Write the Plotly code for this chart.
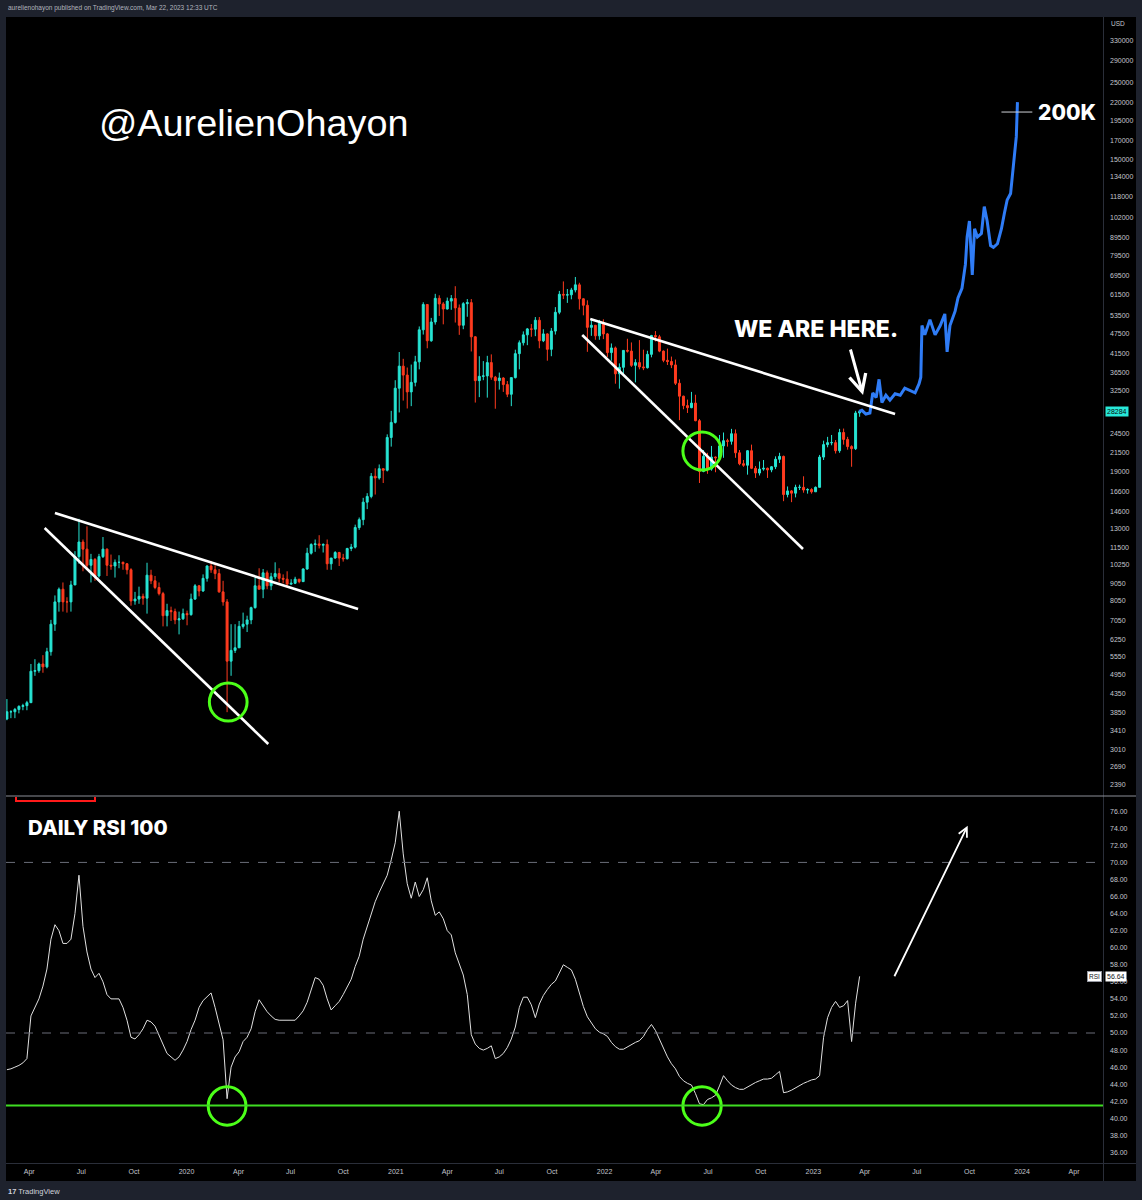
import math
import pandas as pd
import plotly.graph_objects as go

W, H = 1142, 1200


def px(x):
    return x / W


def py(y):
    return 1 - y / H


# ---------------- weekly BTC/USD candles (weeks from 2019-02-18, drawn mid-week) ----------------
week_start = "2019-02-21"
first_open = 3680

close_2019 = [3860, 3860, 3920, 4000, 4020, 4100, 5050, 5070, 5300, 5200, 5750, 6900, 8000, 8700, 8000, 8000,
              8950, 10800, 11900, 11350, 10200, 10600, 9500, 10800, 11350, 10200, 10150, 10400, 10400, 10300,
              9900, 8050, 8150, 8300, 8200, 9550, 9200, 8800, 8450, 7300, 7550, 7500, 7100, 7150, 7400, 7350]
high_2019 = [4200, 3900, 3960, 4030, 4070, 4150, 5300, 5470, 5350, 5620, 5900, 7100, 8350, 8800, 9100, 8250,
             9200, 11200, 13880, 12100, 13200, 11000, 10700, 11000, 12300, 11400, 10950, 10600, 10900, 10450,
             10350, 10000, 8550, 8850, 8450, 10370, 9900, 9500, 9100, 8550, 7900, 7750, 7650, 7500, 7650, 7550]
low_2019 = [3650, 3700, 3700, 3820, 3900, 3900, 4100, 4900, 5000, 5000, 5150, 5600, 6600, 7500, 7500, 7450,
            7500, 8950, 10300, 9800, 10000, 9100, 9200, 9400, 10700, 9500, 9900, 9400, 10000, 9900,
            9600, 7800, 7850, 7900, 7850, 7400, 9000, 8700, 8350, 6800, 6800, 7050, 6900, 6450, 7100, 6850]

close_2020 = [8150, 8900, 8600, 9350, 10150, 9900, 9650, 8550, 8000, 5400, 5800, 5900, 6800, 6900, 7100, 7700,
              8900, 8700, 9700, 8900, 9450, 9650, 9350, 9300, 9000, 9050, 9300, 9150, 9950, 11050, 11700,
              11750, 11650, 11700, 10300, 10700, 11100, 10700, 10650, 11400, 11500, 13100, 13800, 15500,
              16100, 18400, 18200, 19350, 19150, 23800, 26300, 33000]
high_2020 = [8450, 9000, 8950, 9600, 10200, 10500, 10200, 9950, 9200, 8150, 6900, 6900, 7050, 7450, 7300, 7750,
             9450, 10000, 9950, 9850, 9700, 10400, 10000, 9600, 9800, 9300, 9450, 9300, 10000, 11450, 11800,
             12100, 12450, 11800, 12100, 10700, 11200, 11150, 11000, 11450, 11750, 13350, 14000, 15950,
             16450, 18800, 19400, 19900, 19400, 24300, 28400, 34800]
low_2020 = [7300, 8100, 8300, 8550, 9150, 9700, 9300, 8500, 7800, 3850, 4900, 5700, 5900, 6700, 6550, 6900,
            7650, 8700, 8200, 8700, 8650, 9300, 9100, 9050, 8850, 8950, 9000, 9050, 9150, 9900, 10950,
            11150, 11400, 11100, 9900, 9900, 10650, 10150, 10450, 10600, 11200, 11400, 12900, 13300,
            14800, 15900, 16300, 18000, 17600, 19000, 22400, 26100]

close_2021 = [38200, 36000, 32200, 34300, 39300, 48600, 57500, 45200, 51200, 59900, 57700, 55800, 58800,
              59800, 56200, 50100, 57800, 58200, 46400, 34700, 35700, 35800, 39100, 35500, 34700, 35300,
              33800, 31700, 35400, 41500, 44600, 47000, 48900, 48800, 51800, 45200, 47300, 42700, 48200,
              54600, 61500, 61200, 61300, 63300, 65500, 59700, 57200, 49400, 50100, 46700, 50800, 47300]
high_2021 = [41950, 40100, 37850, 38600, 40900, 49700, 58350, 57500, 52600, 61700, 61100, 58400, 60200,
             61200, 64900, 57500, 58400, 59600, 59600, 46600, 40800, 39500, 40900, 41300, 35800, 36600,
             35500, 34600, 35400, 42600, 45300, 48100, 49200, 50500, 52900, 52900, 48800, 47500, 49200,
             56500, 62900, 67000, 63700, 64200, 69000, 66400, 59900, 59100, 51900, 50200, 51900, 52100]
low_2021 = [28100, 30400, 28850, 29300, 33400, 37400, 47100, 43000, 44900, 50300, 53300, 50400, 55600,
            55500, 51000, 47000, 48800, 53000, 42100, 30000, 31100, 34800, 31000, 34900, 28800, 32700,
            32200, 31100, 29300, 35200, 37400, 43800, 43900, 46400, 46600, 43000, 44800, 39600, 40800,
            47100, 53900, 59600, 58100, 59500, 62300, 55600, 53500, 42000, 46700, 45500, 45500, 45700]

close_2022 = [41800, 43100, 36300, 37900, 42400, 42200, 38400, 39100, 38000, 37800, 41300, 46800, 46400,
              42200, 39700, 39400, 38500, 34100, 31300, 29400, 29000, 29900, 26600, 19000, 21000, 19300,
              20900, 20800, 22500, 23300, 23200, 24400, 21500, 20000, 19800, 21800, 19400, 18800, 19300,
              19400, 19200, 19600, 20600, 21000, 16300, 16700, 16450, 17100, 17100, 16800, 16850, 16600]
high_2022 = [47600, 44400, 43500, 38900, 42500, 45800, 44700, 40000, 45400, 42600, 42300, 47000, 48200,
             47000, 42400, 42900, 40700, 39900, 35000, 31400, 30600, 32200, 31600, 26900, 21900, 21500,
             22500, 21000, 24200, 24600, 23600, 25200, 25100, 21900, 20500, 21900, 22700, 19700, 20300,
             20500, 19500, 19700, 21000, 21500, 21100, 17200, 16800, 17400, 17400, 18400, 17000, 17000]
low_2022 = [40600, 39600, 34000, 32900, 36300, 41800, 38000, 34300, 37400, 37200, 37600, 40500, 45000,
            41900, 39200, 38500, 37700, 33700, 26700, 28700, 28000, 28900, 26500, 17600, 18900, 18700,
            19100, 18900, 20700, 20800, 22400, 22700, 20800, 19800, 19600, 18600, 19300, 18200, 18500,
            19100, 18200, 18900, 19300, 20100, 15600, 16000, 15500, 16000, 16800, 16500, 16400, 16400]

close_2023 = [17100, 20900, 22700, 23000, 23000, 21800, 24600, 23500, 22400, 22100, 28000, 28284]
high_2023 = [17200, 21200, 23300, 23900, 24200, 23400, 25200, 25250, 23900, 22600, 28400, 28500]
low_2023 = [16600, 17100, 20500, 22300, 22600, 21400, 21500, 22700, 21950, 19600, 21900, 27300]

# ---------------- daily RSI(100), sampled weekly on the same dates ----------------
rsi_weekly = [
    45.7, 45.8, 46.0, 46.2, 46.5, 47.0, 52.0, 53.0, 54.0, 55.5,
    57.5, 61.0, 62.7, 62.0, 60.5, 60.5, 61.0, 64.0, 68.5, 62.5,
    59.5, 57.5, 56.5, 57.0, 56.0, 54.5, 54.0, 54.0, 54.0, 53.0,
    51.5, 49.5, 49.3, 49.8, 50.5, 51.5, 51.3, 50.8, 49.7, 48.5,
    47.6, 47.2, 46.8, 47.2, 48.0, 49.0, 50.4, 51.5, 53.0, 53.8,
    54.3, 54.7, 53.0, 51.0, 49.2, 42.3, 46.0, 47.2, 47.8, 49.0,
    49.5, 50.5, 52.5, 53.9, 53.2, 52.5, 52.0, 51.6, 51.5, 51.5,
    51.5, 51.5, 51.5, 52.0, 52.6, 53.6, 55.0, 56.5, 56.3, 55.6,
    54.0, 52.7, 53.2, 53.7, 54.5, 55.5, 56.3, 57.8, 59.0, 61.0,
    62.5, 64.0, 65.4, 66.5, 67.5, 68.5, 70.3, 72.3, 76.0, 71.0,
    67.5, 65.8, 67.7, 66.0, 66.8, 68.2, 65.5, 63.8, 64.2, 63.4,
    62.0, 61.5, 59.4, 58.0, 56.8, 54.5, 49.8, 48.7, 48.2, 48.0,
    48.2, 48.5, 47.0, 47.2, 47.6, 48.3, 49.3, 50.7, 53.0, 54.2,
    54.2, 53.3, 51.8, 53.4, 54.4, 55.1, 55.7, 56.1, 57.0, 58.0,
    57.7, 57.4, 56.3, 54.8, 53.1, 51.9, 51.2, 50.5, 50.1, 49.9,
    49.6, 48.9, 48.4, 48.1, 48.1, 48.4, 48.6, 48.9, 49.1, 49.6,
    50.4, 51.0, 50.3, 49.2, 48.1, 47.2, 46.4, 45.8, 44.9, 44.4,
    44.1, 43.9, 42.9, 41.7, 41.6, 42.2, 42.4, 42.7, 43.8, 45.0,
    44.4, 43.9, 43.6, 43.4, 43.4, 43.7, 43.9, 44.2, 44.4, 44.6,
    44.6, 44.7, 45.1, 45.5, 43.0, 43.1, 43.3, 43.6, 43.8, 44.1,
    44.3, 44.5, 44.6, 45.0, 49.5, 51.8, 53.0, 53.7, 53.0, 53.2,
    53.8, 49.0, 53.5, 56.64,
]
rsi_last = 56.64

# ---------------- projected path (blue) ----------------
proj_dates = ["2023-03-22", "2023-03-27", "2023-04-03", "2023-04-10", "2023-04-15", "2023-04-21",
              "2023-04-26", "2023-05-01", "2023-05-08", "2023-05-15", "2023-05-24", "2023-06-02",
              "2023-06-10", "2023-06-19", "2023-06-28", "2023-07-05", "2023-07-08", "2023-07-10",
              "2023-07-15", "2023-07-24", "2023-08-02", "2023-08-11", "2023-08-19", "2023-08-23",
              "2023-08-28", "2023-09-06", "2023-09-11", "2023-09-18", "2023-09-24", "2023-09-27",
              "2023-10-01", "2023-10-06", "2023-10-10", "2023-10-15", "2023-10-22", "2023-10-27",
              "2023-11-01", "2023-11-07", "2023-11-12", "2023-11-19", "2023-11-26", "2023-12-01",
              "2023-12-06", "2023-12-12", "2023-12-15", "2023-12-19", "2023-12-22", "2023-12-24"]
proj_prices = [28284, 28500, 27800, 28000, 32000, 31000, 35000, 30000, 31500, 30500, 31800, 31500,
               33000, 32500, 32000, 34000, 35500, 50000, 47000, 52000, 47000, 50000, 54000, 42000,
               50000, 55000, 60000, 64000, 75000, 90000, 100000, 70000, 95000, 90000, 92000, 110000,
               100000, 85000, 84000, 86000, 95000, 105000, 115000, 120000, 135000, 150000, 175000, 220000]

# ---------------- axes ----------------
price_ticks = [2390, 2690, 3010, 3410, 3850, 4350, 4950, 5550, 6250, 7050, 8050, 9050, 10250, 11500,
               13000, 14600, 16600, 19000, 21500, 24500, 32500, 36500, 41500, 47500, 53500, 61500,
               69500, 79500, 89500, 102000, 118000, 134000, 150000, 170000, 195000, 220000, 250000,
               290000, 330000]
rsi_ticks = [36, 38, 40, 42, 44, 46, 48, 50, 52, 54, 56, 58, 60, 62, 64, 66, 68, 70, 72, 74, 76]
xtick_dates = ["2019-04-01", "2019-07-01", "2019-10-01", "2020-01-01", "2020-04-01", "2020-07-01",
               "2020-10-01", "2021-01-01", "2021-04-01", "2021-07-01", "2021-10-01", "2022-01-01",
               "2022-04-01", "2022-07-01", "2022-10-01", "2023-01-01", "2023-04-01", "2023-07-01",
               "2023-10-01", "2024-01-01", "2024-04-01"]
xtick_labels = ["Apr", "Jul", "Oct", "2020", "Apr", "Jul", "Oct", "2021", "Apr", "Jul", "Oct", "2022",
                "Apr", "Jul", "Oct", "2023", "Apr", "Jul", "Oct", "2024", "Apr"]
x_range = ["2019-02-19 10:00", "2024-05-21 14:00"]

# ---------------- drawings (date, price) ----------------
wedge_2019_upper = [("2019-05-16", 14425), ("2020-10-27", 7628)]
wedge_2019_lower = [("2019-04-28", 13058), ("2020-05-23", 3117)]
wedge_2022_upper = [("2021-12-07", 52220), ("2023-05-24", 27810)]
wedge_2022_lower = [("2021-11-23", 46950), ("2022-12-14", 11360)]
circle_2020_price = [("2020-02-10", 3631), ("2020-04-16", 4671)]
circle_2022_price = [("2022-05-18", 19180), ("2022-07-24", 24690)]
circle_2020_rsi = [("2020-02-08", 39.2), ("2020-04-14", 43.7)]
circle_2022_rsi = [("2022-05-18", 39.2), ("2022-07-24", 43.7)]
rsi_support = 41.5
target_price = 206000
target_span = ["2023-11-26", "2024-01-19"]

# ---------------- build ----------------
closes = close_2019 + close_2020 + close_2021 + close_2022 + close_2023
highs = high_2019 + high_2020 + high_2021 + high_2022 + high_2023
lows = low_2019 + low_2020 + low_2021 + low_2022 + low_2023
opens = [first_open] + closes[:-1]
dates = pd.date_range(week_start, periods=len(closes), freq="7D")

UP = "#27e4d3"
DOWN = "#ff3b1f"
BLUE = "#2f7cf6"
LIME = "#4cff19"
GRAY_TXT = "#c3c6cd"

fig = go.Figure()
fig.add_trace(go.Candlestick(
    x=dates, open=opens, high=highs, low=lows, close=closes,
    increasing=dict(line=dict(color=UP, width=1), fillcolor=UP),
    decreasing=dict(line=dict(color=DOWN, width=1), fillcolor=DOWN),
    xaxis="x", yaxis="y", hoverinfo="skip", whiskerwidth=0,
))
fig.add_trace(go.Scatter(
    x=proj_dates, y=proj_prices, mode="lines", line=dict(color=BLUE, width=3),
    xaxis="x", yaxis="y", hoverinfo="skip",
))
fig.add_trace(go.Scatter(
    x=dates, y=rsi_weekly, mode="lines", line=dict(color="#e0e0e0", width=1),
    xaxis="x2", yaxis="y2", hoverinfo="skip",
))

tickfont = dict(size=7, color=GRAY_TXT, family="Liberation Sans")
fig.update_layout(
    width=W, height=H, margin=dict(l=0, r=0, t=0, b=0),
    paper_bgcolor="#1e222d", plot_bgcolor="rgba(0,0,0,0)",
    showlegend=False, hovermode=False,
    xaxis=dict(domain=[px(6), px(1103)], range=x_range, anchor="y", showticklabels=False,
               showgrid=False, zeroline=False, showline=False, rangeslider=dict(visible=False), ticks=""),
    yaxis=dict(domain=[py(795), py(17)], type="log", range=[3.3469, 5.5876], side="right", anchor="x",
               tickvals=price_ticks, ticktext=[str(v) for v in price_ticks], tickfont=tickfont,
               showgrid=False, zeroline=False, showline=False, ticks="", ticklabelstandoff=6),
    xaxis2=dict(domain=[px(6), px(1103)], matches="x", anchor="y2", tickvals=xtick_dates,
                ticktext=xtick_labels, tickfont=tickfont, showgrid=False, zeroline=False,
                showline=False, ticks="", ticklabelstandoff=3),
    yaxis2=dict(domain=[py(1163), py(797)], range=[34.76, 77.67], side="right", anchor="x2",
                tickvals=rsi_ticks, ticktext=[f"{v:.2f}" for v in rsi_ticks], tickfont=tickfont,
                showgrid=False, zeroline=False, showline=False, ticks="", ticklabelstandoff=6),
)

shapes = []
# panel backgrounds and separators
shapes.append(dict(type="rect", xref="paper", yref="paper", x0=px(6), x1=px(1136), y0=py(1181), y1=py(17),
                   fillcolor="#000000", line=dict(width=0), layer="below"))
shapes.append(dict(type="line", xref="paper", yref="paper", x0=px(1103.5), x1=px(1103.5), y0=py(1181),
                   y1=py(17), line=dict(color="#2a2e39", width=1), layer="below"))
shapes.append(dict(type="line", xref="paper", yref="paper", x0=px(6), x1=px(1136), y0=py(796), y1=py(796),
                   line=dict(color="#8c8f98", width=1)))
shapes.append(dict(type="line", xref="paper", yref="paper", x0=px(6), x1=px(1136), y0=py(1163.5),
                   y1=py(1163.5), line=dict(color="#2a2e39", width=1)))
# clipped red box at the pane top
shapes.append(dict(type="path", xref="paper", yref="paper",
                   path=f"M{px(16)},{py(797)} L{px(16)},{py(801)} L{px(95)},{py(801)} L{px(95)},{py(797)}",
                   line=dict(color="#ff1a1a", width=2)))
# wedge lines
for seg in (wedge_2019_upper, wedge_2019_lower, wedge_2022_upper, wedge_2022_lower):
    (xa, ya), (xb, yb) = seg
    shapes.append(dict(type="line", xref="x", yref="y", x0=xa, y0=ya, x1=xb, y1=yb,
                       line=dict(color="#ffffff", width=2.6)))
# circles
for c in (circle_2020_price, circle_2022_price):
    (xa, ya), (xb, yb) = c
    shapes.append(dict(type="circle", xref="x", yref="y", x0=xa, y0=ya, x1=xb, y1=yb,
                       line=dict(color=LIME, width=3)))
for c in (circle_2020_rsi, circle_2022_rsi):
    (xa, ya), (xb, yb) = c
    shapes.append(dict(type="circle", xref="x2", yref="y2", x0=xa, y0=ya, x1=xb, y1=yb,
                       line=dict(color=LIME, width=3)))
# RSI levels
for lvl in (70, 50):
    shapes.append(dict(type="line", xref="paper", yref="y2", x0=px(6), x1=px(1103), y0=lvl, y1=lvl,
                       line=dict(color="#6a6d78", width=1, dash="dash")))
shapes.append(dict(type="line", xref="paper", yref="y2", x0=px(6), x1=px(1103), y0=rsi_support,
                   y1=rsi_support, line=dict(color="#3fdc22", width=2)))
# crosshair at target
shapes.append(dict(type="line", xref="x", yref="y", x0=target_span[0], x1=target_span[1],
                   y0=target_price, y1=target_price, line=dict(color="#cfd2d8", width=1)))
fig.update_layout(shapes=shapes)

heavy = dict(family="Inter", color="#ffffff", weight=800)
ann = []
ann.append(dict(xref="paper", yref="paper", x=px(6), y=py(8), xanchor="left", yanchor="middle",
                text="aurelienohayon published on TradingView.com, Mar 22, 2023 12:33 UTC",
                showarrow=False, font=dict(size=6.5, color="#b2b5be", family="Liberation Sans")))
ann.append(dict(xref="paper", yref="paper", x=px(6), y=py(1191), xanchor="left", yanchor="middle",
                text="<b>17</b> TradingView", showarrow=False,
                font=dict(size=7.5, color="#d1d4dc", family="Liberation Sans")))
ann.append(dict(xref="paper", yref="paper", x=px(97), y=py(123), xanchor="left", yanchor="middle",
                text="@AurelienOhayon", showarrow=False,
                font=dict(size=37.8, color="#ffffff", family="Liberation Sans")))
ann.append(dict(xref="paper", yref="paper", x=px(732), y=py(329), xanchor="left", yanchor="middle",
                text="WE ARE HERE.", showarrow=False, font=dict(size=23, **heavy)))
ann.append(dict(xref="paper", yref="paper", x=px(1036), y=py(113), xanchor="left", yanchor="middle",
                text="200K", showarrow=False, font=dict(size=21, **heavy)))
ann.append(dict(xref="paper", yref="paper", x=px(26), y=py(827), xanchor="left", yanchor="middle",
                text="DAILY RSI 100", showarrow=False, font=dict(size=20.5, **heavy)))
# arrows
ann.append(dict(xref="x", yref="y", x="2023-03-29", y=math.log10(31550), ax=-13, ay=-47,
                axref="pixel", ayref="pixel", text="", showarrow=True, arrowhead=5, arrowsize=1.1,
                arrowwidth=3, arrowcolor="#ffffff"))
ann.append(dict(xref="x2", yref="y2", x="2023-09-28", y=74.3, ax=-74, ay=152,
                text="", showarrow=True, arrowhead=5, arrowsize=1.0,
                arrowwidth=1.8, arrowcolor="#ffffff"))
# price scale labels
ann.append(dict(xref="paper", yref="paper", x=px(1109), y=py(23), xanchor="left", yanchor="middle",
                text="USD", showarrow=False, font=dict(size=6.5, color=GRAY_TXT, family="Liberation Sans")))
ann.append(dict(xref="paper", yref="y", x=px(1105), y=math.log10(closes[-1]), xanchor="left",
                yanchor="middle", text=str(closes[-1]), showarrow=False, bgcolor="#27e8d8",
                borderpad=1, font=dict(size=7, color="#0a0a0a", family="Liberation Sans")))
ann.append(dict(xref="paper", yref="y2", x=px(1102), y=rsi_last, xanchor="right", yanchor="middle",
                text="RSI", showarrow=False, bgcolor="#ffffff", bordercolor="#9598a1", borderwidth=1,
                borderpad=1, font=dict(size=6.5, color="#131722", family="Liberation Sans")))
ann.append(dict(xref="paper", yref="y2", x=px(1105), y=rsi_last, xanchor="left", yanchor="middle",
                text=f"{rsi_last:.2f}", showarrow=False, bgcolor="#ffffff", borderpad=1,
                font=dict(size=7, color="#131722", family="Liberation Sans")))
fig.update_layout(annotations=ann)

fig.write_html("out.html")
